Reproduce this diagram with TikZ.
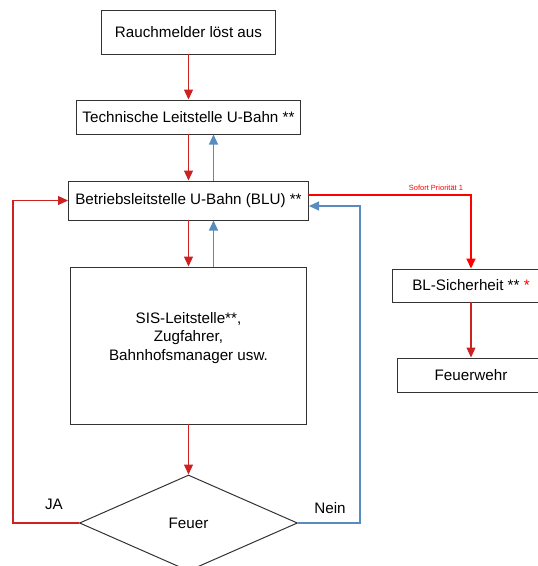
\documentclass[tikz,border=0pt]{standalone}
\usepackage{fontspec}
\setmainfont{Liberation Sans}
\usepackage{tikz}
\usetikzlibrary{shapes.geometric,arrows.meta,calc}
\definecolor{rot}{RGB}{204,34,34}
\definecolor{hellrot}{RGB}{255,0,0}
\definecolor{blau}{RGB}{88,140,190}
\definecolor{rand}{RGB}{51,51,51}
\tikzset{>={Triangle[length=10pt,width=9pt]}}
\tikzset{kasten/.style={draw=rand,line width=1pt,rectangle,inner sep=0pt,align=center}}
\tikzset{raute/.style={draw=rand,line width=1pt,diamond,inner sep=0pt,minimum width=218pt,minimum height=96pt}}
\tikzset{pfeilrot/.style={->,color=rot,line width=1.1pt}}
\tikzset{pfeilblau/.style={->,color=blau,line width=1.1pt}}
\tikzset{pfeilhell/.style={->,color=hellrot,line width=2pt}}

\begin{document}
\begin{tikzpicture}[line cap=round,line join=miter,x=1pt,y=-1pt,font=\fontsize{15.2}{18.5}\selectfont]
	\clip (0,0) rectangle (538,566);
	\node[kasten,minimum width=174pt,minimum height=44pt] (rauch) at (188.5,32) {Rauchmelder löst aus};
	\node[kasten,minimum width=224pt,minimum height=34pt] (techn) at (188.5,117) {Technische Leitstelle U-Bahn **};
	\node[kasten,minimum width=240pt,minimum height=39pt] (blu) at (188.5,200.5) {Betriebsleitstelle U-Bahn (BLU) **};
	\node[kasten,minimum width=236pt,minimum height=157pt] (sis) at (188.5,345.5) {};
	\node[align=center] (sistext) at (188.5,338) {SIS-Leitstelle**,\\Zugfahrer,\\Bahnhofsmanager usw.};
	\node[raute] (feuer) at (188.5,523) {Feuer};
	\node[kasten,minimum width=158pt,minimum height=33pt] (blsich) at (471,285.5) {BL-Sicherheit ** \textcolor{hellrot}{*}};
	\node[kasten,minimum width=148pt,minimum height=34pt] (wehr) at (471,375) {Feuerwehr};
	% Meldeweg nach unten
	\draw[pfeilrot] (rauch) -- (techn);
	\draw[pfeilrot] (techn) -- (blu);
	\draw[pfeilblau] ([xshift=25pt]blu.north) -- ([xshift=25pt]techn.south);
	\draw[pfeilrot] (blu) -- (sis);
	\draw[pfeilblau] ([xshift=25pt]sis.north) -- ([xshift=25pt]blu.south);
	\draw[pfeilrot] (sis) -- (feuer);
	% Rueckmeldung
	\draw[pfeilrot] (feuer.west) -- ++(-66,0) |- (blu.west);
	\draw[pfeilblau] (feuer.east) -- ++(62,0) |- ([yshift=-5.5pt]blu.east);
	\node (ja) at (54,504) {JA};
	\node (nein) at (330,508) {Nein};
	% Sicherheit
	\draw[pfeilhell] ([yshift=5.5pt]blu.east) -| (blsich.north);
	\node[color=hellrot,font=\fontsize{7.5}{9}\selectfont] (prio) at (436,188) {Sofort Priorität 1};
	\draw[pfeilrot] (blsich) -- (wehr);
\end{tikzpicture}
\end{document}
